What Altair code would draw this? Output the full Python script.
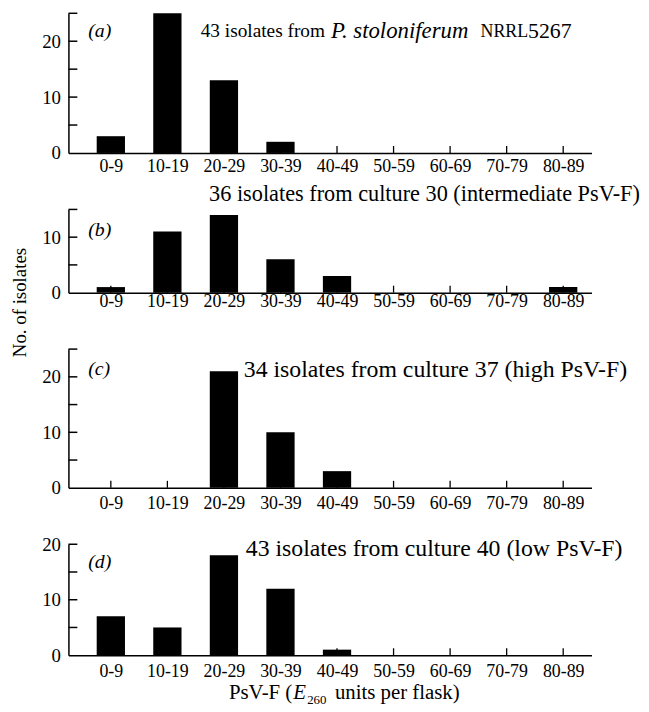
import altair as alt
import pandas as pd

# ---------------- data ----------------
categories = ["0-9", "10-19", "20-29", "30-39", "40-49", "50-59", "60-69", "70-79", "80-89"]
counts_a = [3, 25, 13, 2, 0, 0, 0, 0, 0]
counts_b = [1, 11, 14, 6, 3, 0, 0, 0, 1]
counts_c = [0, 0, 21, 10, 3, 0, 0, 0, 0]
counts_d = [7, 5, 18, 12, 1, 0, 0, 0, 0]
panel_tags = ["(a)", "(b)", "(c)", "(d)"]
y_max = [25, 15, 25, 20]
y_tick_labels = [[0, 10, 20], [0, 10], [0, 10, 20], [0, 10, 20]]
minor_step = 5
title_b = "36 isolates from culture 30 (intermediate PsV-F)"
title_c = "34 isolates from culture 37 (high PsV-F)"
title_d = "43 isolates from culture 40 (low PsV-F)"
title_a_parts = ["43 isolates from", "P. stoloniferum", "NRRL", "5267"]
y_title = "No. of isolates"
x_title_parts = ["PsV-F (", "E", "260", "units per flask)"]

FONT = "Liberation Serif"
W = 528
HEIGHTS = [141, 84, 140, 112]
LABEL_PAD = [5, 0, 7, 8]
X_DOMAIN = [-0.75, 8.5]

label_expr = "[" + ",".join("'%s'" % c for c in categories) + "][datum.value]"


def txt(text, x, y, size, italic=False, align="left", angle=0):
    kw = dict(align=align, baseline="middle", font=FONT, fontSize=size, color="black")
    if italic:
        kw["fontStyle"] = "italic"
    if angle:
        kw["angle"] = angle
    return alt.Chart(pd.DataFrame({"t": [text]})).mark_text(**kw).encode(
        x=alt.value(x), y=alt.value(y), text="t:N"
    )


def panel(i, counts, extra):
    H = HEIGHTS[i]
    ymax = y_max[i]
    xs = alt.Scale(domain=X_DOMAIN, nice=False, zero=False)
    ys = alt.Scale(domain=[0, ymax], nice=False)
    x_axis = alt.Axis(
        values=list(range(len(categories))), labelExpr=label_expr, ticks=False, tickSize=0,
        grid=False, title=None, domain=True, domainColor="black", domainWidth=1.5,
        labelFont=FONT, labelFontSize=18, labelColor="black", labelPadding=LABEL_PAD[i],
        labelFlush=False, labelOverlap=False)
    y_axis = alt.Axis(
        values=y_tick_labels[i], ticks=False, tickSize=0, grid=False, title=None,
        domain=True, domainColor="black", domainWidth=1.5,
        labelFont=FONT, labelFontSize=19, labelColor="black", labelPadding=8)

    bars_df = pd.DataFrame({"idx": list(range(len(categories))), "cat": categories, "n": counts})
    bars_df["lo"] = bars_df["idx"] - 0.25
    bars_df["hi"] = bars_df["idx"] + 0.25
    bars_df = bars_df[bars_df["n"] > 0]

    bars = alt.Chart(bars_df).mark_rect(color="black").encode(
        x=alt.X("lo:Q", scale=xs, axis=x_axis),
        x2="hi:Q",
        y=alt.Y("n:Q", scale=ys, axis=y_axis),
        y2=alt.datum(0),
    )

    yt_df = pd.DataFrame({"v": list(range(minor_step, ymax + 1, minor_step))})
    yticks = alt.Chart(yt_df).mark_rule(color="black", strokeWidth=1.5).encode(
        y=alt.Y("v:Q", scale=ys, axis=y_axis), x=alt.value(0), x2=alt.value(9)
    )
    xt_df = pd.DataFrame({"idx": list(range(len(categories)))})
    xticks = alt.Chart(xt_df).mark_rule(color="black", strokeWidth=1.3).encode(
        x=alt.X("idx:Q", scale=xs, axis=x_axis), y=alt.value(H), y2=alt.value(H - 7)
    )
    tag = txt(panel_tags[i], 20, [18, 21, 20, 18][i], 20, italic=True)
    return alt.layer(bars, yticks, xticks, tag, *extra).properties(width=W, height=H)


extra_a = [
    txt(title_a_parts[0], 259, 18, 19.5, align="right"),
    txt(title_a_parts[1], 265, 18, 23, italic=True),
    txt(title_a_parts[2], 464, 19, 18, align="right"),
    txt(title_a_parts[3], 464, 18, 22),
]
extra_b = [
    txt(title_b, 142, -16, 22.5),
    txt(y_title, -49, 94, 19, angle=270, align="center"),
]
extra_c = [txt(title_c, 177, 21, 24)]
extra_d = [
    txt(title_d, 179, 5, 24),
    txt(x_title_parts[0], 226, 150, 21, align="right"),
    txt(x_title_parts[1], 227, 150, 21, italic=True),
    txt(x_title_parts[2], 241, 157, 13),
    txt(x_title_parts[3], 269, 150, 21),
]

chart = alt.vconcat(
    panel(0, counts_a, extra_a),
    panel(1, counts_b, extra_b),
    panel(2, counts_c, extra_c),
    panel(3, counts_d, extra_d),
    spacing=57,
    bounds="flush",
).properties(
    padding={"left": 3, "top": 1, "right": 0, "bottom": 2},
    background="white",
).configure_view(stroke=None)

chart.save("out.html", embed_options={"renderer": "svg", "actions": False})
